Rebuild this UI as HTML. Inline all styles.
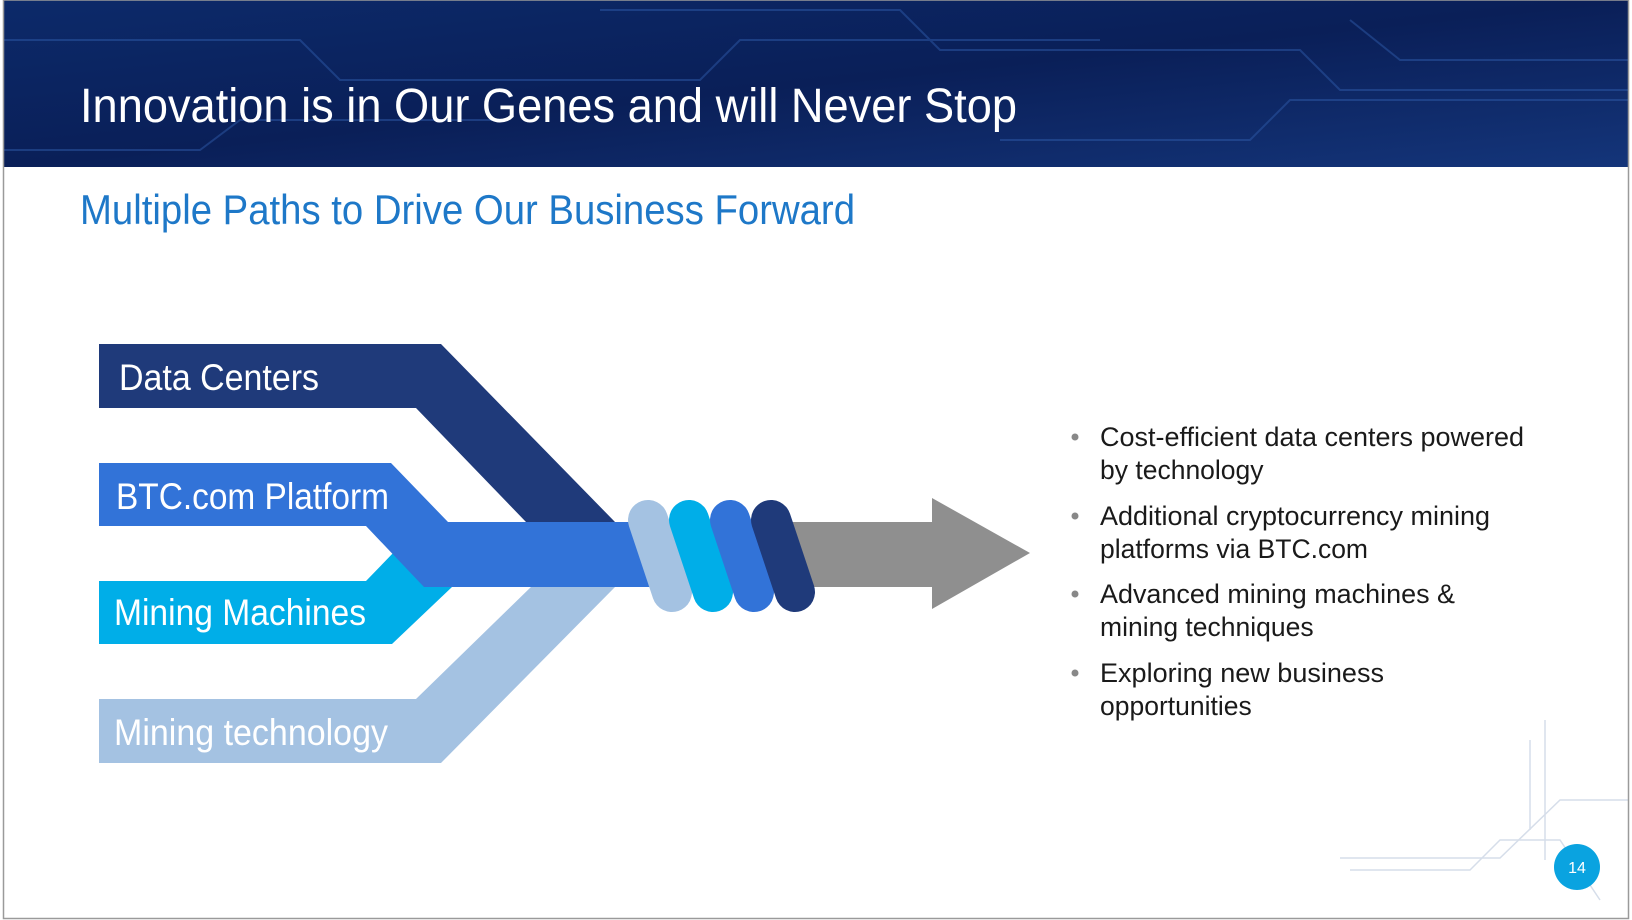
<!DOCTYPE html>
<html><head><meta charset="utf-8"><style>
html,body{margin:0;padding:0;background:#fff;}
svg{display:block;}
text{font-family:"Liberation Sans Narrow","Liberation Sans",sans-serif;}
</style></head><body>
<svg width="1632" height="920" viewBox="0 0 1632 920" xmlns="http://www.w3.org/2000/svg">
<defs>
<linearGradient id="hd" x1="0" y1="0" x2="1" y2="1">
<stop offset="0" stop-color="#0c2a6a"/><stop offset="0.5" stop-color="#0a1f58"/><stop offset="1" stop-color="#14357a"/>
</linearGradient>
</defs>
<rect x="0" y="0" width="1632" height="920" fill="#fff"/>
<rect x="3" y="0" width="1626" height="167" fill="url(#hd)"/>
<g stroke="#2e5aa8" stroke-width="2" fill="none" opacity="0.5">
<path d="M3 40 H300 L340 80 H700 L740 40 H1100"/>
<path d="M600 10 H900 L940 50 H1300 L1340 90 H1629"/>
<path d="M1000 140 H1250 L1290 100 H1629"/>
<path d="M3 150 H200 L240 120 H500"/>
<path d="M1350 20 L1400 60 H1629"/>
</g>
<text x="80" y="122" font-size="48" fill="#fff" textLength="937" lengthAdjust="spacingAndGlyphs">Innovation is in Our Genes and will Never Stop</text>
<text x="80" y="224" font-size="42" fill="#1e78c8" textLength="775" lengthAdjust="spacingAndGlyphs">Multiple Paths to Drive Our Business Forward</text>

<polygon points="99,344 441,344 615,522 526,522 416,408 99,408" fill="#1f3a7a"/>
<polygon points="99,581 366,581 395,551 452,587 392,644 99,644" fill="#00aee8"/>
<polygon points="99,699 416,699 533,585 617,585 441,763 99,763" fill="#a4c2e2"/>
<polygon points="99,463 391,463 448,522 660,522 660,587 424,587 366,526 99,526" fill="#3273d8"/>
<polygon points="780,522 932,522 932,498 1030,553 932,609 932,587 780,587" fill="#8f8f8f"/>
<g stroke-linecap="round" stroke-width="40">
<line x1="648" y1="520" x2="672" y2="592" stroke="#a4c2e2"/>
<line x1="689" y1="520" x2="713" y2="592" stroke="#00aee8"/>
<line x1="730" y1="520" x2="754" y2="592" stroke="#3273d8"/>
<line x1="771" y1="520" x2="795" y2="592" stroke="#1f3a7a"/>
</g>

<text x="119" y="390" font-size="37" fill="#fff" textLength="200" lengthAdjust="spacingAndGlyphs">Data Centers</text>
<text x="116" y="509" font-size="37" fill="#fff" textLength="273" lengthAdjust="spacingAndGlyphs">BTC.com Platform</text>
<text x="114" y="625" font-size="37" fill="#fff" textLength="252" lengthAdjust="spacingAndGlyphs">Mining Machines</text>
<text x="114" y="745" font-size="37" fill="#fff" textLength="274" lengthAdjust="spacingAndGlyphs">Mining technology</text>

<g font-size="26.5" fill="#1a1a1a">
<g fill="#888"><circle cx="1075" cy="437" r="3.5"/><circle cx="1075" cy="516" r="3.5"/><circle cx="1075" cy="594" r="3.5"/><circle cx="1075" cy="673" r="3.5"/></g>
<text x="1100" y="446" style="font-family:'Liberation Sans',sans-serif" textLength="424" lengthAdjust="spacingAndGlyphs">Cost-efficient data centers powered</text>
<text x="1100" y="479" style="font-family:'Liberation Sans',sans-serif">by technology</text>
<text x="1100" y="525" style="font-family:'Liberation Sans',sans-serif" textLength="390" lengthAdjust="spacingAndGlyphs">Additional cryptocurrency mining</text>
<text x="1100" y="558" style="font-family:'Liberation Sans',sans-serif">platforms via BTC.com</text>
<text x="1100" y="603" style="font-family:'Liberation Sans',sans-serif" textLength="355" lengthAdjust="spacingAndGlyphs">Advanced mining machines &amp;</text>
<text x="1100" y="636" style="font-family:'Liberation Sans',sans-serif">mining techniques</text>
<text x="1100" y="682" style="font-family:'Liberation Sans',sans-serif" textLength="284" lengthAdjust="spacingAndGlyphs">Exploring new business</text>
<text x="1100" y="715" style="font-family:'Liberation Sans',sans-serif">opportunities</text>
</g>

<g stroke="#d6deea" stroke-width="1.5" fill="none">
<path d="M1340 858 H1500 L1560 800 H1629"/>
<path d="M1350 870 H1470 L1500 840 H1560 L1600 900"/>
<path d="M1545 720 V860"/>
<path d="M1530 740 V830"/>
</g>
<circle cx="1577" cy="867" r="23" fill="#0aa3e0"/>
<text x="1577" y="873" font-size="16" fill="#fff" text-anchor="middle" style="font-family:'Liberation Sans',sans-serif">14</text>
<rect x="3.5" y="0" width="1625" height="918.5" fill="none" stroke="#9a9a9a" stroke-width="1.5"/>
</svg>
</body></html>
